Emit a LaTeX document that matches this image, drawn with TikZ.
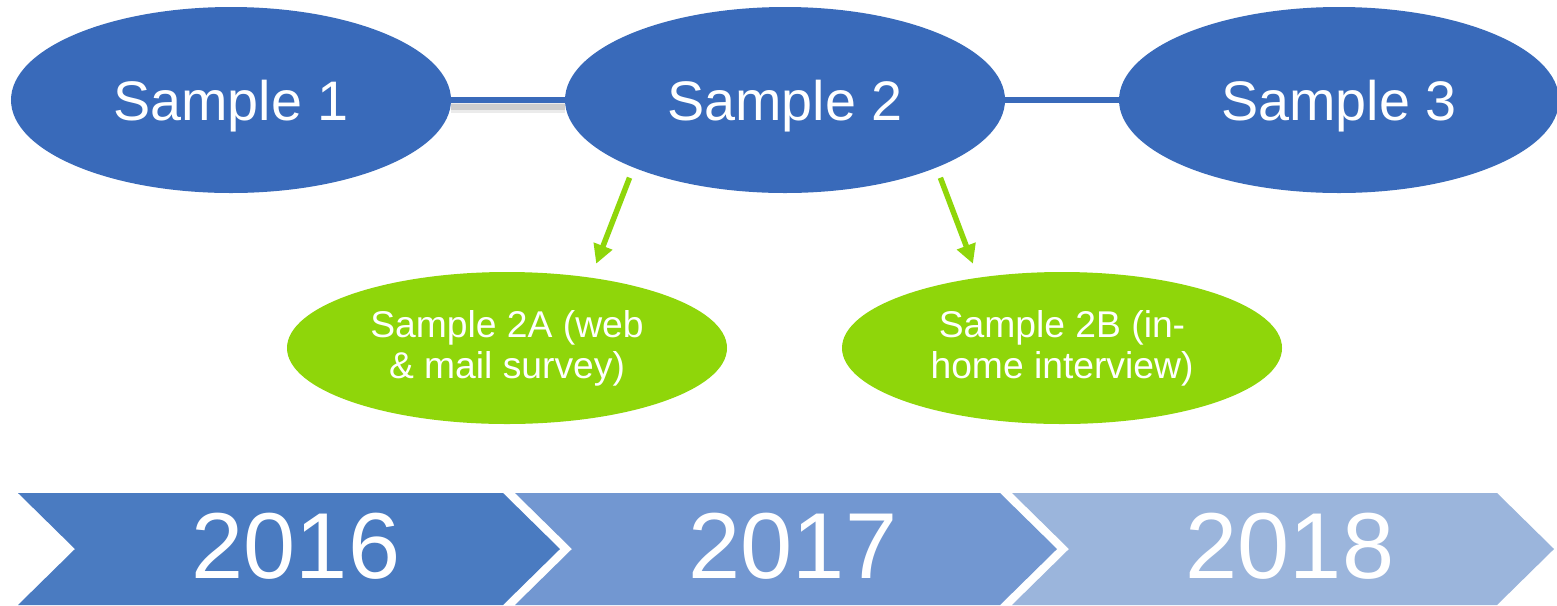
\documentclass[tikz,border=0pt]{standalone}
\usepackage{fontspec}
\setmainfont{Liberation Sans}
\usetikzlibrary{arrows.meta,shapes.geometric}
\definecolor{sampleblue}{RGB}{57,106,186}
\definecolor{subgreen}{RGB}{143,214,10}
\definecolor{chevA}{RGB}{74,123,193}
\definecolor{chevB}{RGB}{114,151,209}
\definecolor{chevC}{RGB}{155,181,220}

\begin{document}
\begin{tikzpicture}[x=0.2mm, y=-0.2mm,
    samplenode/.style={ellipse, fill=sampleblue, text=white, inner sep=0pt, outer sep=0pt, minimum width=88mm, minimum height=37.2mm, text depth=0pt, font=\fontsize{31.7}{38}\selectfont},
    subnode/.style={ellipse, fill=subgreen, text=white, inner sep=0pt, outer sep=0pt, minimum width=88mm, minimum height=30.4mm, align=center, font=\fontsize{21.2}{23.3}\selectfont},
    yearlabel/.style={text=white, inner sep=0pt, font=\fontsize{53.3}{64}\selectfont},
    linkline/.style={sampleblue, line width=1.2mm},
    splitarrow/.style={-{Triangle[length=3.8mm, width=3.8mm]}, subgreen, line width=1.1mm, shorten <=2.2mm, shorten >=3mm}
]
\useasboundingbox (0,0) rectangle (1557,605);

% timeline
\foreach \L/\yr/\col in {18/2016/chevA, 515/2017/chevB, 1012/2018/chevC}{
  \fill[\col] (\L,493) -- ++(485,0) -- ++(57,56) -- ++(-57,56) -- ++(-485,0) -- ++(57,-56) -- cycle;
  \node[yearlabel] (y\yr) at (\L+278,546) {\yr};
}

% samples
\node[samplenode] (s1) at (231,100) {Sample 1};
\node[samplenode] (s2) at (785,100) {Sample 2};
\node[samplenode] (s3) at (1339,100) {Sample 3};

\node[subnode] (s2a) at (507,348) {Sample 2A (web\\ \& mail survey)};
\node[subnode] (s2b) at (1062,348) {Sample 2B (in-\\home interview)};

\draw[black, opacity=0.08, line width=2.2mm] ([yshift=-1.4mm]s1.east) -- ([yshift=-1.4mm]s2.west);
\draw[black, opacity=0.12, line width=1.2mm] ([yshift=-1.3mm]s1.east) -- ([yshift=-1.3mm]s2.west);
\draw[linkline] (s1) -- (s2);
\draw[linkline] (s2) -- (s3);

\draw[splitarrow] (s2.204) -- (s2a.40);
\draw[splitarrow] (s2.336) -- (s2b.140);
\end{tikzpicture}
\end{document}
